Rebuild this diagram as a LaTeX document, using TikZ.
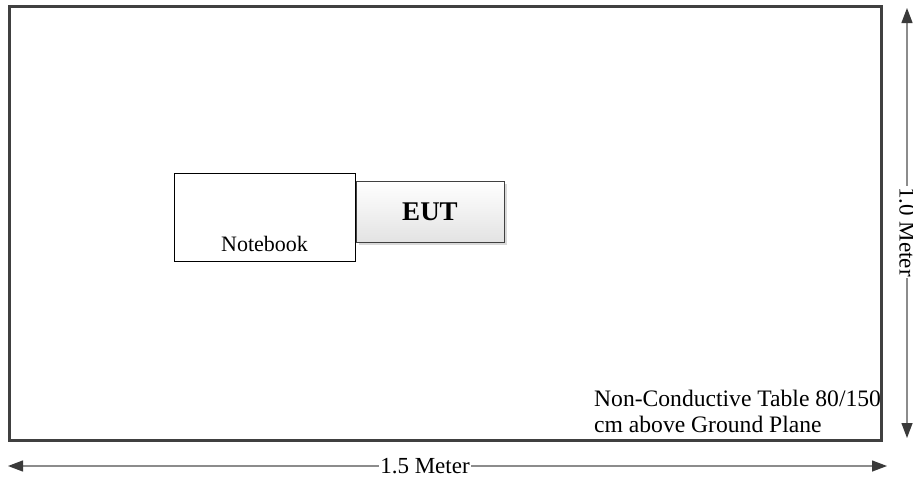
\documentclass[tikz,border=0pt]{standalone}
\usepackage{fontspec}
\setmainfont{Liberation Serif}
\usetikzlibrary{arrows.meta,positioning,shadows}
\definecolor{framegray}{HTML}{404040}
\definecolor{dimgray}{HTML}{8C8C8C}
\definecolor{tipgray}{HTML}{3A3A3A}
\tikzset{
  tablebox/.style={draw=framegray, line width=3pt},
  nbbox/.style={draw=black, line width=1pt, minimum width=181pt,
                minimum height=88pt, inner sep=0pt},
  nbtext/.style={inner sep=0pt, font=\fontsize{22}{25}\selectfont},
  eutbox/.style={draw=framegray, line width=1pt, top color=white,
                 bottom color=gray!22, minimum width=148pt, minimum height=61pt,
                 drop shadow={shadow xshift=3pt, shadow yshift=-3pt,
                              fill=gray!50, opacity=0.6},
                 font=\fontsize{27}{30}\selectfont\bfseries},
  notetext/.style={inner sep=0pt, align=left,
                   font=\fontsize{23.6}{26}\selectfont},
  dimarr/.style={{Triangle[length=15pt,width=11pt,color=tipgray]}-{Triangle[length=15pt,width=11pt,color=tipgray]},
                 line width=1.3pt, draw=dimgray},
  dimlabel/.style={fill=white, inner sep=1.5pt, font=\fontsize{23}{25}\selectfont}}
\begin{document}
\begin{tikzpicture}[x=1pt, y=-1pt]
  \useasboundingbox (0,0) rectangle (913,483);
  % table top
  \draw[tablebox] (9,6) rectangle (881,440);
  \node[notetext, anchor=base west] (note) at (594,432)
    {Non-Conductive Table 80/150\\cm above Ground Plane};
  % devices
  \node[nbbox] (notebook) at (264.5,217) {};
  \node[nbtext, above=10pt of notebook.south] (nblabel) {Notebook};
  \node[eutbox] (eut) at (430,211.5) {EUT};
  % dimensions
  \coordinate (hleft) at (8,466);
  \coordinate (hright) at (887,466);
  \coordinate (vtop) at (907,8);
  \coordinate (vbot) at (907,438);
  \draw[dimarr] (hleft) -- (hright);
  \draw[dimarr] (vtop) -- (vbot);
  \node[dimlabel] (hlabel) at (425,466) {1.5 Meter};
  \node[dimlabel, rotate=-90] (vlabel) at (907,232) {1.0 Meter};
\end{tikzpicture}
\end{document}
